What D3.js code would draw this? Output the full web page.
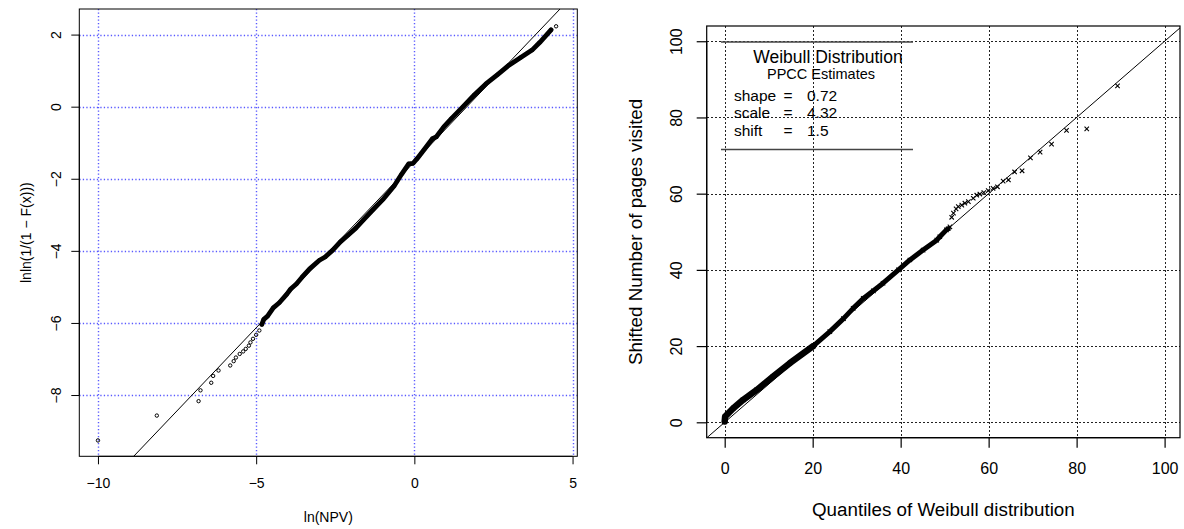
<!DOCTYPE html>
<html><head><meta charset="utf-8">
<script src="https://cdn.jsdelivr.net/npm/d3@7"></script>
<style>
body{margin:0;background:#fff}
svg{display:block}
text{font-family:"Liberation Sans",Arial,Helvetica,sans-serif;fill:#000}
</style>
</head><body><svg id="c" width="1184" height="529"></svg>
<script>
// ---------- Left panel: Weibull probability plot of ln(NPV) ----------
const npvX = [-10.0, -8.14, -6.82, -6.76, -6.42, -6.36, -6.19, -5.82, -5.71, -5.64, -5.52, -5.41, -5.33, -5.23, -5.18, -5.10, -5.00, -4.90, -4.82, -4.76, -4.64, -4.46, -4.27, -4.03, -3.91, -3.73, -3.55, -3.31, -3.00, -2.82, -2.58, -2.34, -2.09, -1.85, -1.61, -1.31, -1.00, -0.64, -0.40, -0.18, -0.04, 0.08, 0.33, 0.57, 0.69, 0.93, 1.17, 1.54, 1.90, 2.26, 2.63, 2.99, 3.35, 3.72, 3.96, 4.20, 4.32, 4.48];
const npvY = [-9.26, -8.57, -8.17, -7.87, -7.66, -7.47, -7.32, -7.18, -7.06, -6.96, -6.86, -6.79, -6.72, -6.63, -6.54, -6.44, -6.33, -6.21, -6.04, -5.90, -5.81, -5.58, -5.44, -5.20, -5.06, -4.92, -4.73, -4.50, -4.26, -4.17, -3.98, -3.75, -3.56, -3.37, -3.14, -2.86, -2.58, -2.20, -1.87, -1.59, -1.57, -1.45, -1.17, -0.89, -0.84, -0.56, -0.33, 0.00, 0.33, 0.63, 0.89, 1.15, 1.36, 1.57, 1.78, 2.01, 2.13, 2.23];
const npvFit = [-1.53, 0.921]; // intercept, slope
const npvTicksX = [-10, -5, 0, 5];
const npvTicksY = [-8, -6, -4, -2, 0, 2];
const npvXLabel = "ln(NPV)";
const npvYLabel = "lnln(1/(1 \u2212 F(x)))";

// ---------- Right panel: Weibull Q-Q plot ----------
const wbX = [0.0, 0.1, 1.95, 4.2, 7.3, 11.0, 14.8, 20.1, 23.9, 27.0, 29.2, 31.5, 33.8, 36.0, 39.5, 42.1, 45.1, 48.2, 48.9, 50.4, 50.8, 51.2, 51.6, 52.0, 52.6, 53.1, 53.9, 54.6, 55.4, 56.5, 57.3, 58.0, 58.9, 59.9, 61.0, 62.0, 63.3, 64.5, 65.9, 67.6, 69.5, 71.7, 74.3, 77.7, 82.3, 89.3];
const wbY = [0.2, 1.5, 3.7, 5.9, 8.5, 12.0, 15.5, 20.0, 23.8, 27.2, 29.9, 32.5, 34.5, 36.5, 40.0, 42.6, 45.2, 47.8, 48.7, 50.5, 50.8, 51.3, 53.8, 54.9, 56.0, 56.6, 57.0, 57.5, 57.9, 58.8, 59.6, 59.9, 60.3, 60.8, 61.4, 61.8, 63.3, 63.6, 65.7, 66.0, 69.4, 70.9, 73.0, 76.6, 77.0, 88.3];
const wbTicks = [0, 20, 40, 60, 80, 100];
const wbXLabel = "Quantiles of Weibull distribution";
const wbYLabel = "Shifted Number of pages visited";
const legendTitle = "Weibull Distribution";
const legendSub = "PPCC Estimates";
const paramNames = ["shape", "scale", "shift"];
const paramVals = ["0.72", "4.32", "1.5"];

const svg = d3.select("#c");

// ================= LEFT =================
const xL = d3.scaleLinear().domain([-10.59, 5.15]).range([79.3, 577.3]);
const yL = d3.scaleLinear().domain([-9.70, 2.71]).range([456.3, 9]);
const L = svg.append("g");
L.append("clipPath").attr("id", "clipL").append("rect")
  .attr("x", xL.range()[0]).attr("y", yL.range()[1])
  .attr("width", xL.range()[1] - xL.range()[0]).attr("height", yL.range()[0] - yL.range()[1]);

// grid
const gL = L.append("g").attr("stroke", "#3c3cff").attr("stroke-width", 1.4)
  .attr("stroke-dasharray", "1.3,2.2").attr("stroke-opacity", 0.85);
gL.selectAll("line.vx").data(npvTicksX).join("line").attr("class", "vx")
  .attr("x1", d => Math.round(xL(d)) + 0.5).attr("x2", d => Math.round(xL(d)) + 0.5)
  .attr("y1", yL.range()[1]).attr("y2", yL.range()[0]);
gL.selectAll("line.hy").data(npvTicksY).join("line").attr("class", "hy")
  .attr("y1", d => Math.round(yL(d)) + 0.5).attr("y2", d => Math.round(yL(d)) + 0.5)
  .attr("x1", xL.range()[0]).attr("x2", xL.range()[1]);

const pL = L.append("g").attr("clip-path", "url(#clipL)");
// fitted line
const xd = xL.domain();
pL.append("line")
  .attr("x1", xL(xd[0])).attr("y1", yL(npvFit[0] + npvFit[1] * xd[0]))
  .attr("x2", xL(xd[1])).attr("y2", yL(npvFit[0] + npvFit[1] * xd[1]))
  .attr("stroke", "#000").attr("stroke-width", 1);
// dense band
const npvPts = npvX.map((x, i) => [x, npvY[i]]);
const bandL = npvPts.filter(p => p[0] >= -4.82 && p[0] <= 4.32);
pL.append("path").datum(bandL)
  .attr("d", d3.line().x(d => xL(d[0])).y(d => yL(d[1])))
  .attr("fill", "none").attr("stroke", "#000").attr("stroke-width", 4.8)
  .attr("stroke-linecap", "round").attr("stroke-linejoin", "round");
pL.selectAll("circle").data(npvPts).join("circle")
  .attr("cx", d => xL(d[0])).attr("cy", d => yL(d[1])).attr("r", 1.7)
  .attr("fill", "none").attr("stroke", "#000").attr("stroke-width", 1);

// box
L.append("rect").attr("x", xL.range()[0]).attr("y", yL.range()[1])
  .attr("width", xL.range()[1] - xL.range()[0]).attr("height", yL.range()[0] - yL.range()[1])
  .attr("fill", "none").attr("stroke", "#000").attr("stroke-width", 1);

// axes
const axLb = L.append("g").attr("transform", `translate(0,${yL.range()[0]})`)
  .call(d3.axisBottom(xL).tickValues(npvTicksX).tickSize(8).tickSizeOuter(0).tickPadding(6));
axLb.select(".domain").attr("d", `M${xL(npvTicksX[0])},0H${xL(npvTicksX[npvTicksX.length-1])}`);
axLb.selectAll("text").attr("font-size", 14).attr("y", 27).attr("dy", null).attr("dominant-baseline", "central")
  .style("font-family", '"Liberation Sans",Arial,sans-serif');
const axLl = L.append("g").attr("transform", `translate(${xL.range()[0]},0)`)
  .call(d3.axisLeft(yL).tickValues(npvTicksY).tickSize(8).tickSizeOuter(0));
axLl.select(".domain").attr("d", `M0,${yL(npvTicksY[0])}V${yL(npvTicksY[npvTicksY.length-1])}`);
axLl.selectAll("text").attr("font-size", 14).attr("transform", "rotate(-90)")
  .attr("x", 0).attr("y", -23).attr("dy", null).attr("text-anchor", "middle").attr("dominant-baseline", "central")
  .style("font-family", '"Liberation Sans",Arial,sans-serif');
[axLb, axLl].forEach(a => { a.selectAll("line,path").attr("stroke", "#000"); a.attr("font-family", null); });

L.append("text").attr("x", (xL.range()[0] + xL.range()[1]) / 2).attr("y", 517)
  .attr("text-anchor", "middle").attr("dominant-baseline", "central").attr("font-size", 14).text(npvXLabel);
L.append("text").attr("transform", `translate(26,${(yL.range()[0] + yL.range()[1]) / 2}) rotate(-90)`)
  .attr("text-anchor", "middle").attr("dominant-baseline", "central").attr("font-size", 14).text(npvYLabel);

// ================= RIGHT =================
const xR = d3.scaleLinear().domain([-4.09, 103.5]).range([706.7, 1180]);
const yR = d3.scaleLinear().domain([-4.04, 104.0]).range([437.7, 26]);
const R = svg.append("g");
R.append("clipPath").attr("id", "clipR").append("rect")
  .attr("x", xR.range()[0]).attr("y", yR.range()[1])
  .attr("width", xR.range()[1] - xR.range()[0]).attr("height", yR.range()[0] - yR.range()[1]);

const gR = R.append("g").attr("stroke", "#222").attr("stroke-width", 1)
  .attr("stroke-dasharray", "2,2").attr("shape-rendering", "crispEdges");
gR.selectAll("line.vx").data(wbTicks).join("line").attr("class", "vx")
  .attr("x1", d => Math.round(xR(d)) + 0.5).attr("x2", d => Math.round(xR(d)) + 0.5)
  .attr("y1", yR.range()[1]).attr("y2", yR.range()[0]);
gR.selectAll("line.hy").data(wbTicks).join("line").attr("class", "hy")
  .attr("y1", d => Math.round(yR(d)) + 0.5).attr("y2", d => Math.round(yR(d)) + 0.5)
  .attr("x1", xR.range()[0]).attr("x2", xR.range()[1]);

const pR = R.append("g").attr("clip-path", "url(#clipR)");
const xdR = xR.domain();
pR.append("line")
  .attr("x1", xR(xdR[0])).attr("y1", yR(xdR[0]))
  .attr("x2", xR(110)).attr("y2", yR(110))
  .attr("stroke", "#000").attr("stroke-width", 1);
const wbPts = wbX.map((x, i) => [x, wbY[i]]);
const bandR1 = wbPts.filter(p => p[0] <= 20.1);
const bandR2 = wbPts.filter(p => p[0] >= 20.1 && p[0] <= 50.8);
pR.append("path").datum(bandR1)
  .attr("d", d3.line().x(d => xR(d[0])).y(d => yR(d[1])))
  .attr("fill", "none").attr("stroke", "#000").attr("stroke-width", 6.5)
  .attr("stroke-linecap", "round").attr("stroke-linejoin", "round");
pR.append("path").datum(bandR2)
  .attr("d", d3.line().x(d => xR(d[0])).y(d => yR(d[1])))
  .attr("fill", "none").attr("stroke", "#000").attr("stroke-width", 5)
  .attr("stroke-linecap", "round").attr("stroke-linejoin", "round");
pR.selectAll(".mk").data(wbPts).join("path")
  .attr("transform", d => `translate(${xR(d[0])},${yR(d[1])})`)
  .attr("d", "M-2.2,-2.2L2.2,2.2M-2.2,2.2L2.2,-2.2")
  .attr("stroke", "#000").attr("stroke-width", 1.1).attr("fill", "none");

R.append("rect").attr("x", xR.range()[0]).attr("y", yR.range()[1])
  .attr("width", xR.range()[1] - xR.range()[0]).attr("height", yR.range()[0] - yR.range()[1])
  .attr("fill", "none").attr("stroke", "#000").attr("stroke-width", 1.2);

const axRb = R.append("g").attr("transform", `translate(0,${yR.range()[0]})`)
  .call(d3.axisBottom(xR).tickValues(wbTicks).tickSize(10).tickSizeOuter(0));
axRb.select(".domain").attr("d", `M${xR(0)},0H${xR(100)}`);
axRb.selectAll("text").attr("font-size", 16).attr("y", 30.5).attr("dy", null).attr("dominant-baseline", "central")
  .style("font-family", '"Liberation Sans",Arial,sans-serif');
const axRl = R.append("g").attr("transform", `translate(${xR.range()[0]},0)`)
  .call(d3.axisLeft(yR).tickValues(wbTicks).tickSize(10).tickSizeOuter(0));
axRl.select(".domain").attr("d", `M0,${yR(0)}V${yR(100)}`);
axRl.selectAll("text").attr("font-size", 16).attr("transform", "rotate(-90)")
  .attr("x", 0).attr("y", -30.5).attr("dy", null).attr("text-anchor", "middle").attr("dominant-baseline", "central")
  .style("font-family", '"Liberation Sans",Arial,sans-serif');
[axRb, axRl].forEach(a => { a.selectAll("line,path").attr("stroke", "#000").attr("stroke-width", 1.2); a.attr("font-family", null); });

R.append("text").attr("x", (xR.range()[0] + xR.range()[1]) / 2).attr("y", 509.5)
  .attr("text-anchor", "middle").attr("dominant-baseline", "central").attr("font-size", 18.8).text(wbXLabel);
R.append("text").attr("transform", `translate(635,${(yR.range()[0] + yR.range()[1]) / 2}) rotate(-90)`)
  .attr("text-anchor", "middle").attr("dominant-baseline", "central").attr("font-size", 18.8).text(wbYLabel);

// legend block
const lg = R.append("g");
lg.append("line").attr("x1", 721).attr("x2", 913).attr("y1", 42).attr("y2", 42).attr("stroke", "#444").attr("stroke-width", 1.3);
lg.append("line").attr("x1", 721).attr("x2", 913).attr("y1", 149.5).attr("y2", 149.5).attr("stroke", "#444").attr("stroke-width", 1.3);
lg.append("text").attr("x", 828).attr("y", 56.5).attr("text-anchor", "middle").attr("dominant-baseline", "central")
  .attr("font-size", 17.5).text(legendTitle);
lg.append("text").attr("x", 821).attr("y", 74).attr("text-anchor", "middle").attr("dominant-baseline", "central")
  .attr("font-size", 14.5).text(legendSub);
const rowsY = [95, 112.5, 130];
paramNames.forEach((n, i) => {
  lg.append("text").attr("x", 734).attr("y", rowsY[i]).attr("dominant-baseline", "central").attr("font-size", 15.5).text(n);
  lg.append("text").attr("x", 788).attr("y", rowsY[i]).attr("text-anchor", "middle").attr("dominant-baseline", "central").attr("font-size", 15.5).text("=");
  lg.append("text").attr("x", 807).attr("y", rowsY[i]).attr("dominant-baseline", "central").attr("font-size", 15.5).text(paramVals[i]);
});
</script>
</body></html>
